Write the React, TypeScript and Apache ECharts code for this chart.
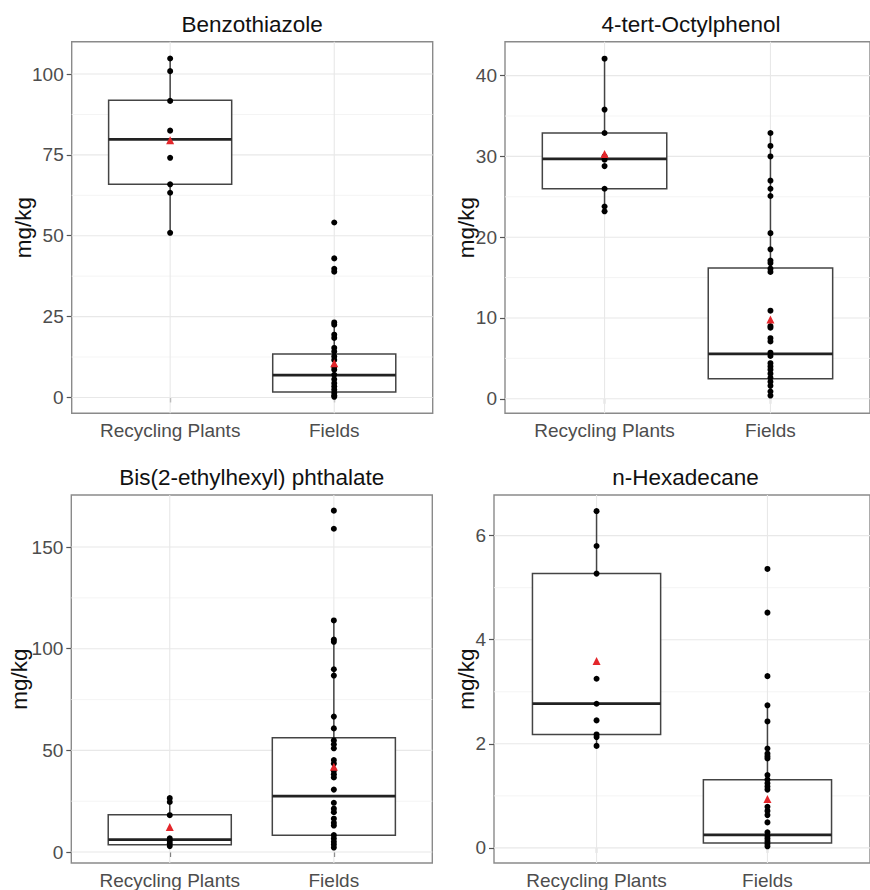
import React, { useEffect, useRef } from 'react';
import * as echarts from 'echarts';

const categories = ['Recycling Plants', 'Fields'];
const panelTitles = ['Benzothiazole', '4-tert-Octylphenol', 'Bis(2-ethylhexyl) phthalate', 'n-Hexadecane'];

// Box stats: [lower whisker, Q1, median, Q3, upper whisker]
// Benzothiazole
const btzRecyclingPoints = [104.8, 100.9, 91.7, 82.5, 74.1, 65.9, 63.3, 50.9];
const btzFieldsPoints = [54.1, 43.0, 39.8, 38.9, 23.2, 22.5, 19.4, 18.4, 15.3, 14.2, 12.7, 11.6, 9.5, 8.6, 7.0, 5.6, 4.4, 3.4, 2.4, 1.4, 0.6, 0.2];
const btzRecyclingBox = [50.9, 65.9, 79.8, 91.9, 104.8];
const btzFieldsBox = [0.2, 1.7, 6.9, 13.4, 23.2];
const btzMeans = [79.5, 10.6];
const btzTicks = [0, 25, 50, 75, 100];

// 4-tert-Octylphenol
const opRecyclingPoints = [42.1, 35.8, 32.9, 30.0, 29.6, 28.8, 26.0, 23.8, 23.2];
const opFieldsPoints = [32.9, 31.3, 30.0, 27.0, 26.0, 25.1, 20.5, 18.5, 17.1, 16.8, 16.1, 15.7, 10.9, 9.0, 8.8, 7.5, 7.1, 5.7, 5.3, 4.4, 4.0, 3.6, 3.1, 2.6, 2.1, 1.6, 0.9, 0.4];
const opRecyclingBox = [23.2, 26.0, 29.7, 32.9, 42.1];
const opFieldsBox = [0.4, 2.47, 5.55, 16.2, 32.9];
const opMeans = [30.3, 9.8];
const opTicks = [0, 10, 20, 30, 40];

// Bis(2-ethylhexyl) phthalate
const dehpRecyclingPoints = [26.5, 24.6, 18.1, 6.7, 5.4, 4.2, 2.9];
const dehpFieldsPoints = [167.9, 159.0, 113.9, 104.5, 103.4, 89.9, 86.8, 66.6, 60.8, 54.9, 53.0, 51.0, 45.2, 43.5, 40.0, 38.3, 36.7, 30.7, 24.2, 21.3, 19.6, 16.4, 14.4, 13.0, 8.3, 6.6, 5.0, 3.7, 2.2];
const dehpRecyclingBox = [2.9, 3.6, 6.1, 18.3, 26.5];
const dehpFieldsBox = [2.2, 8.3, 27.5, 56.2, 113.9];
const dehpMeans = [12.3, 41.9];
const dehpTicks = [0, 50, 100, 150];

// n-Hexadecane
const hexRecyclingPoints = [6.47, 5.80, 5.27, 3.25, 2.77, 2.45, 2.18, 2.13, 1.96];
const hexFieldsPoints = [5.36, 4.52, 3.30, 2.74, 2.43, 1.91, 1.81, 1.76, 1.72, 1.40, 1.31, 1.24, 1.18, 1.12, 0.79, 0.71, 0.63, 0.49, 0.30, 0.23, 0.18, 0.13, 0.08, 0.03];
const hexRecyclingBox = [1.96, 2.18, 2.77, 5.27, 6.47];
const hexFieldsBox = [0.03, 0.095, 0.25, 1.31, 2.74];
const hexMeans = [3.59, 0.94];
const hexTicks = [0, 2, 4, 6];

const panelData = [
  { rp: btzRecyclingPoints, fp: btzFieldsPoints, rb: btzRecyclingBox, fb: btzFieldsBox, means: btzMeans, ticks: btzTicks },
  { rp: opRecyclingPoints, fp: opFieldsPoints, rb: opRecyclingBox, fb: opFieldsBox, means: opMeans, ticks: opTicks },
  { rp: dehpRecyclingPoints, fp: dehpFieldsPoints, rb: dehpRecyclingBox, fb: dehpFieldsBox, means: dehpMeans, ticks: dehpTicks },
  { rp: hexRecyclingPoints, fp: hexFieldsPoints, rb: hexRecyclingBox, fb: hexFieldsBox, means: hexMeans, ticks: hexTicks },
];

const layouts = [
  { left: 71.7, top: 41.7, width: 361, height: 371.6, yMin: -4.9, yMax: 110, nameGap: 37, titleTop: 8 },
  { left: 505, top: 41.7, width: 372, height: 371.6, yMin: -1.8, yMax: 44.2, nameGap: 27, titleTop: 8 },
  { left: 71.3, top: 495, width: 361, height: 371, yMin: -5.4, yMax: 175.6, nameGap: 40, titleTop: 461 },
  { left: 494, top: 495, width: 383, height: 371, yMin: -0.29, yMax: 6.78, nameGap: 16, titleTop: 461 },
];

const FONT = 'Liberation Sans, Arial, Helvetica, sans-serif';

const renderGridLine = (params: any, api: any) => {
  const cs = params.coordSys;
  const kind = api.value(2);
  if (kind === 2) {
    const x = api.coord([api.value(0), api.value(1)])[0];
    return { type: 'line', shape: { x1: x, y1: cs.y, x2: x, y2: cs.y + cs.height }, style: { stroke: '#e8e8e8', lineWidth: 1.1 } };
  }
  const y = api.coord([api.value(0), api.value(1)])[1];
  return {
    type: 'line',
    shape: { x1: cs.x, y1: y, x2: cs.x + cs.width, y2: y },
    style: { stroke: kind === 0 ? '#e8e8e8' : '#f3f3f3', lineWidth: kind === 0 ? 1.1 : 0.9 },
  };
};

const renderBox = (params: any, api: any) => {
  const x = api.value(0);
  const lo = api.coord([x, api.value(1)]);
  const q1 = api.coord([x, api.value(2)]);
  const med = api.coord([x, api.value(3)]);
  const q3 = api.coord([x, api.value(4)]);
  const hi = api.coord([x, api.value(5)]);
  const w = api.size([0.75, 0])[0];
  const cx = lo[0];
  const stroke = '#444444';
  return {
    type: 'group',
    children: [
      { type: 'line', shape: { x1: cx, y1: hi[1], x2: cx, y2: q3[1] }, style: { stroke, lineWidth: 1.5 } },
      { type: 'line', shape: { x1: cx, y1: q1[1], x2: cx, y2: lo[1] }, style: { stroke, lineWidth: 1.5 } },
      { type: 'rect', shape: { x: cx - w / 2, y: q3[1], width: w, height: q1[1] - q3[1] }, style: { fill: '#ffffff', stroke, lineWidth: 1.5 } },
      { type: 'line', shape: { x1: cx - w / 2, y1: med[1], x2: cx + w / 2, y2: med[1] }, style: { stroke: '#222222', lineWidth: 2.8 } },
    ],
  };
};

export default function App() {
  const ref = useRef<HTMLDivElement>(null);
  useEffect(() => {
    if (!ref.current) return;
    const chart = echarts.init(ref.current, undefined, { renderer: 'svg' });
    const grid: any[] = [];
    const xAxis: any[] = [];
    const yAxis: any[] = [];
    const series: any[] = [];
    const title: any[] = [];
    layouts.forEach((L, i) => {
      const d = panelData[i];
      grid.push({ left: L.left, top: L.top, width: L.width, height: L.height, show: true, borderColor: '#8a8a8a', borderWidth: 1.4, backgroundColor: 'transparent' });
      title.push({
        text: panelTitles[i], left: L.left + (1.5 - 0.4) / 2.2 * L.width - 5, top: L.titleTop, textAlign: 'center',
        textStyle: { fontFamily: FONT, fontSize: 22.5, fontWeight: 'normal', color: '#111' },
      });
      xAxis.push({
        type: 'value', gridIndex: i, min: 0.4, max: 2.6,
        splitLine: { show: false }, axisLine: { show: false },
        axisTick: { show: true, customValues: [1, 2], length: 5, lineStyle: { color: '#555', width: 1.2 } },
        axisLabel: {
          customValues: [1, 2], margin: 8, fontFamily: FONT, fontSize: 19, color: '#4d4d4d',
          formatter: (v: number) => categories[Math.round(v) - 1] || '',
        },
      });
      yAxis.push({
        type: 'value', gridIndex: i, min: L.yMin, max: L.yMax,
        splitLine: { show: false }, axisLine: { show: false },
        axisTick: { show: true, customValues: d.ticks, length: 5, lineStyle: { color: '#555', width: 1.2 } },
        axisLabel: { customValues: d.ticks, margin: 8, fontFamily: FONT, fontSize: 19, color: '#4d4d4d' },
        name: 'mg/kg', nameLocation: 'middle', nameRotate: 90, nameGap: L.nameGap, nameMoveOverlap: false,
        nameTextStyle: { fontFamily: FONT, fontSize: 22.5, color: '#111' },
      });
      const minors: number[] = [];
      for (let k = 0; k < d.ticks.length - 1; k++) minors.push((d.ticks[k] + d.ticks[k + 1]) / 2);
      const gridData = [
        ...d.ticks.map((v) => [1, v, 0]),
        ...minors.map((v) => [1, v, 1]),
        [1, L.yMin, 2],
        [2, L.yMin, 2],
      ];
      series.push({ type: 'custom', xAxisIndex: i, yAxisIndex: i, z: 1, silent: true, renderItem: renderGridLine, data: gridData, encode: { x: 0, y: 1 } });
      series.push({ type: 'custom', xAxisIndex: i, yAxisIndex: i, z: 2, silent: true, renderItem: renderBox, data: [[1, ...d.rb], [2, ...d.fb]], encode: { x: 0, y: [1, 2, 3, 4, 5] } });
      series.push({
        type: 'scatter', xAxisIndex: i, yAxisIndex: i, z: 3, silent: true, symbolSize: 6,
        itemStyle: { color: '#000', opacity: 1 },
        data: [...d.rp.map((v) => [1, v]), ...d.fp.map((v) => [2, v])],
      });
      series.push({
        type: 'scatter', xAxisIndex: i, yAxisIndex: i, z: 4, silent: true, symbol: 'triangle', symbolSize: 8,
        itemStyle: { color: '#e3262b', opacity: 1 },
        data: [[1, d.means[0]], [2, d.means[1]]],
      });
    });
    chart.setOption({ animation: false, backgroundColor: '#ffffff', title, grid, xAxis, yAxis, series });
    return () => chart.dispose();
  }, []);
  return <div ref={ref} style={{ position: 'absolute', left: 0, top: 0, width: 870, height: 890 }} />;
}
